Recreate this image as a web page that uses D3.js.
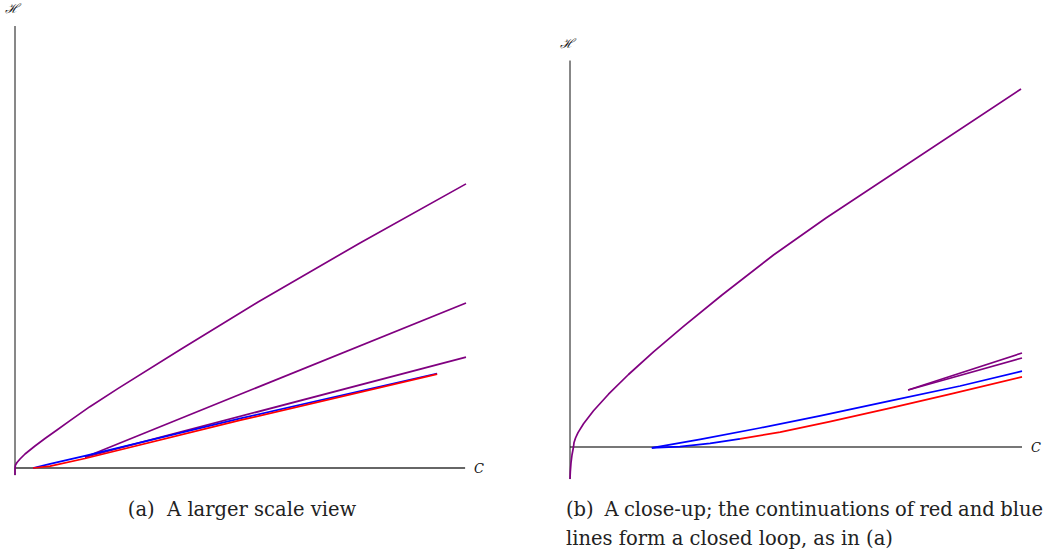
<!DOCTYPE html>
<html lang="en">
  <head>
    <meta charset="UTF-8" />
    <title>Loops in the C-H plane</title>
    <style>
      body {
        margin: 0;
        background: #fff;
      }
      .caption {
        font-family: "DejaVu Serif", serif;
        font-size: 19.5px;
        fill: #222;
        white-space: pre;
      }
      .axislabel {
        font-family: "DejaVu Serif", serif;
        font-style: italic;
        font-size: 13px;
        fill: #111;
      }
    </style>
  </head>
  <body>
    <svg id="chart" width="1047" height="554"></svg>

    <script src="https://d3js.org/d3.v7.min.js"></script>
    <script>
      // ---- data: [C, H] pairs ----
      // panel (a): larger scale view
      const aTopPurple = [
        [0, -1.55], [0, 0], [0.11, 0.67], [0.44, 1.22], [1.11, 2.0], [2.22, 3.1],
        [4.43, 4.88], [6.65, 6.54], [9.31, 8.43], [12.2, 10.5], [16.6, 13.6],
        [22.8, 17.6], [36.6, 26.2], [53.9, 36.8], [76.5, 49.9], [100, 63.0],
      ];
      const aMidPurple = [[15.5, 2.4], [100, 36.6]];
      const aLowPurple = [[15.5, 2.4], [100, 24.6]];
      const aBlue = [[4.0, 0], [7.8, 0.9], [15.5, 2.7], [50, 11.0], [93.6, 20.95]];
      const aRed = [[4.0, 0], [7.8, 0.4], [15.5, 2.1], [50, 10.6], [93.6, 20.8]];
      const aAxisC = [0, 99.8];
      const aAxisH = [-1.6, 98];

      // panel (b): close-up
      const bTopPurple = [
        [0, -7.08], [0.07, -5.53], [0.22, -3.54], [0.44, -1.77], [0.77, 0],
        [0.88, 0.93], [1.22, 1.99], [1.77, 3.19], [2.99, 5.15], [5.2, 8.03],
        [8.52, 11.68], [12.94, 16.04], [18.47, 21.04], [25.11, 26.68],
        [33.63, 33.63], [45.02, 42.48], [56.64, 50.66], [99.78, 79.2],
      ];
      const bBlueUpper = [
        [18.1, -0.2], [28.8, 1.7], [42.0, 4.2], [55.3, 6.9], [70.8, 10.2],
        [86.3, 13.5], [100, 16.8],
      ];
      const bBlueLower = [[18.1, -0.2], [24.3, 0.1], [31.0, 0.8], [37.6, 1.8]];
      const bRed = [
        [37.6, 1.8], [46.5, 3.3], [57.5, 5.6], [70.8, 8.6], [84.1, 11.7], [100, 15.5],
      ];
      const bPurple1 = [[74.8, 12.6], [100, 20.8]];
      const bPurple2 = [[74.8, 12.6], [100, 19.7]];
      const bAxisC = [0, 100];
      const bAxisH = [-7.1, 85.5];

      const captionA = "(a)  A larger scale view";
      const captionB = [
        "(b)  A close-up; the continuations of red and blue",
        "lines form a closed loop, as in (a)",
      ];

      const purple = "#800080";
      const red = "#ff0000";
      const blue = "#0000ff";

      const svg = d3.select("#chart");

      function drawPanel(x, y, axisC, axisH, xAxisStyle, series, labels) {
        const g = svg.append("g");
        const line = d3
          .line()
          .x((d) => x(d[0]))
          .y((d) => y(d[1]))
          .curve(d3.curveLinear);

        // axes: plain lines, no ticks
        g.append("line")
          .attr("x1", x(axisC[0]))
          .attr("x2", x(axisC[1]))
          .attr("y1", y(0))
          .attr("y2", y(0))
          .style("stroke", xAxisStyle.color)
          .style("stroke-width", xAxisStyle.width);
        g.append("line")
          .attr("x1", x(0))
          .attr("x2", x(0))
          .attr("y1", y(axisH[0]))
          .attr("y2", y(axisH[1]))
          .style("stroke", "#111")
          .style("stroke-width", 1);

        g.selectAll(".curve")
          .data(series)
          .enter()
          .append("path")
          .attr("class", "curve")
          .attr("d", (d) => line(d.pts))
          .style("fill", "none")
          .style("stroke", (d) => d.color)
          .style("stroke-width", 1.7)
          .style("stroke-linejoin", "round");

        g.append("text")
          .attr("class", "axislabel")
          .attr("x", x(0) + labels.hdx)
          .attr("y", labels.hy)
          .attr("text-anchor", "middle")
          .text("ℋ");
        g.append("text")
          .attr("class", "axislabel")
          .attr("x", x(axisC[1]) + 14)
          .attr("y", y(0) + 5)
          .attr("text-anchor", "middle")
          .text("C");
      }

      // panel (a)
      const xA = d3.scaleLinear().domain([0, 100]).range([15, 466]);
      const yA = d3.scaleLinear().domain([0, 100]).range([468, 17]);
      drawPanel(
        xA,
        yA,
        aAxisC,
        aAxisH,
        { color: "#333", width: 1.3 },
        [
          { pts: aTopPurple, color: purple },
          { pts: aMidPurple, color: purple },
          { pts: aLowPurple, color: purple },
          { pts: aBlue, color: blue },
          { pts: aRed, color: red },
        ],
        { hy: 13, hdx: -3 }
      );

      // panel (b)
      const xB = d3.scaleLinear().domain([0, 100]).range([570, 1022]);
      const yB = d3.scaleLinear().domain([0, 100]).range([447, -5]);
      drawPanel(
        xB,
        yB,
        bAxisC,
        bAxisH,
        { color: "#777", width: 2 },
        [
          { pts: bTopPurple, color: purple },
          { pts: bBlueUpper, color: blue },
          { pts: bBlueLower, color: blue },
          { pts: bRed, color: red },
          { pts: bPurple1, color: purple },
          { pts: bPurple2, color: purple },
        ],
        { hy: 48, hdx: -3 }
      );

      // captions
      svg.append("text")
        .attr("class", "caption")
        .attr("x", 242)
        .attr("y", 516)
        .attr("text-anchor", "middle")
        .text(captionA);

      const capB = svg
        .selectAll(".capb")
        .data(captionB)
        .enter()
        .append("text")
        .attr("class", "caption capb")
        .attr("x", 566)
        .attr("y", (d, i) => 516 + i * 29)
        .text((d) => d);

      // justify first line of caption (b) to the measured width
      const first = capB.nodes()[0];
      const gaps = captionB[0].split(" ").length - 1;
      const extra = (477 - first.getComputedTextLength()) / gaps;
      d3.select(first).style("word-spacing", Math.max(extra, -3) + "px");
    </script>
  </body>
</html>
